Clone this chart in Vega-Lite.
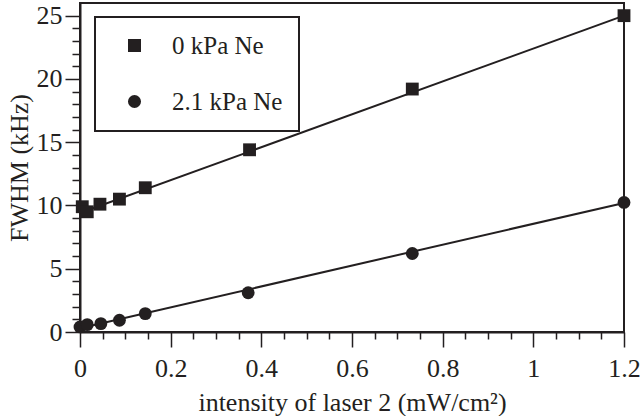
{
  "$schema": "https://vega.github.io/schema/vega-lite/v6.json",
  "autosize": "none",
  "width": 544,
  "height": 329,
  "padding": {"left": 80, "top": 3, "right": 18, "bottom": 84},
  "background": "white",
  "datasets": {
    "pts": [
      {"x": 0.005, "y": 9.9, "s": "0 kPa Ne"},
      {"x": 0.016, "y": 9.5, "s": "0 kPa Ne"},
      {"x": 0.044, "y": 10.1, "s": "0 kPa Ne"},
      {"x": 0.087, "y": 10.5, "s": "0 kPa Ne"},
      {"x": 0.144, "y": 11.4, "s": "0 kPa Ne"},
      {"x": 0.374, "y": 14.4, "s": "0 kPa Ne"},
      {"x": 0.733, "y": 19.2, "s": "0 kPa Ne"},
      {"x": 1.2, "y": 25.0, "s": "0 kPa Ne"},
      {"x": 0.0, "y": 0.4, "s": "2.1 kPa Ne"},
      {"x": 0.016, "y": 0.58, "s": "2.1 kPa Ne"},
      {"x": 0.046, "y": 0.66, "s": "2.1 kPa Ne"},
      {"x": 0.087, "y": 0.93, "s": "2.1 kPa Ne"},
      {"x": 0.144, "y": 1.45, "s": "2.1 kPa Ne"},
      {"x": 0.371, "y": 3.1, "s": "2.1 kPa Ne"},
      {"x": 0.733, "y": 6.2, "s": "2.1 kPa Ne"},
      {"x": 1.2, "y": 10.24, "s": "2.1 kPa Ne"}
    ],
    "fit": [
      {"x": 0.0, "y": 9.4, "s": "A"},
      {"x": 1.2, "y": 25.0, "s": "A"},
      {"x": 0.0, "y": 0.3, "s": "B"},
      {"x": 1.2, "y": 10.2, "s": "B"}
    ]
  },
  "layer": [
    {
      "data": {"name": "fit"},
      "mark": {"type": "line", "color": "#231f20", "strokeWidth": 2},
      "encoding": {
        "x": {
          "field": "x", "type": "quantitative",
          "scale": {"domain": [0, 1.2], "nice": false, "zero": false},
          "axis": {
            "orient": "bottom",
            "title": "intensity of laser 2 (mW/cm²)",
            "values": [0, 0.2, 0.4, 0.6, 0.8, 1, 1.2],
            "labelExpr": "format(datum.value, '~g')",
            "tickSize": 15,
            "labelPadding": 8,
            "titlePadding": 8
          }
        },
        "y": {
          "field": "y", "type": "quantitative",
          "scale": {"domain": [0, 26], "nice": false, "zero": false},
          "axis": {
            "orient": "left",
            "title": "FWHM (kHz)",
            "values": [0, 5, 10, 15, 20, 25],
            "tickSize": 15,
            "labelPadding": 3,
            "titlePadding": 4
          }
        },
        "detail": {"field": "s", "type": "nominal"}
      }
    },
    {
      "data": {"name": "fit"},
      "mark": {"type": "point", "opacity": 0},
      "encoding": {
        "x": {
          "field": "x", "type": "quantitative",
          "axis": {
            "orient": "bottom",
            "title": null,
            "labels": false,
            "domain": false,
            "values": [0.05, 0.1, 0.15, 0.25, 0.3, 0.35, 0.45, 0.5, 0.55, 0.65, 0.7, 0.75, 0.85, 0.9, 0.95, 1.05, 1.1, 1.15],
            "tickSize": 7
          }
        },
        "y": {
          "field": "y", "type": "quantitative",
          "axis": {
            "orient": "left",
            "title": null,
            "labels": false,
            "domain": false,
            "values": [1, 2, 3, 4, 6, 7, 8, 9, 11, 12, 13, 14, 16, 17, 18, 19, 21, 22, 23, 24],
            "tickSize": 8
          }
        }
      }
    },
    {
      "data": {"name": "pts"},
      "mark": {"type": "point", "filled": true, "opacity": 1, "color": "#231f20"},
      "encoding": {
        "x": {"field": "x", "type": "quantitative", "axis": null},
        "y": {"field": "y", "type": "quantitative", "axis": null},
        "shape": {
          "field": "s", "type": "nominal",
          "scale": {"domain": ["0 kPa Ne", "2.1 kPa Ne"], "range": ["square", "circle"]},
          "legend": {
            "title": null,
            "orient": "none",
            "legendX": 15,
            "legendY": 14,
            "strokeColor": "#231f20",
            "padding": 16,
            "rowPadding": 30,
            "symbolSize": 170,
            "symbolOffset": 11,
            "symbolFillColor": "#231f20",
            "symbolStrokeColor": "#231f20",
            "symbolOpacity": 1,
            "labelFont": "Times New Roman, Liberation Serif, serif",
            "labelFontSize": 25,
            "labelColor": "#231f20",
            "labelOffset": 25,
            "labelLimit": 300,
            "labelExpr": "datum.label + '\u00a0\u00a0\u00a0'"
          }
        },
        "size": {"value": 165}
      }
    }
  ],
  "resolve": {"axis": {"x": "independent", "y": "independent"}},
  "config": {
    "view": {"stroke": "#231f20", "strokeWidth": 2},
    "legend": {"strokeWidth": 2},
    "axis": {
      "domainColor": "#231f20",
      "domainWidth": 2,
      "tickColor": "#231f20",
      "tickWidth": 1.5,
      "grid": false,
      "labelFont": "Times New Roman, Liberation Serif, serif",
      "labelFontSize": 26,
      "labelColor": "#231f20",
      "labelOverlap": false,
      "labelFlush": false,
      "titleFont": "Times New Roman, Liberation Serif, serif",
      "titleFontSize": 26,
      "titleFontWeight": "normal",
      "titleColor": "#231f20"
    }
  }
}
